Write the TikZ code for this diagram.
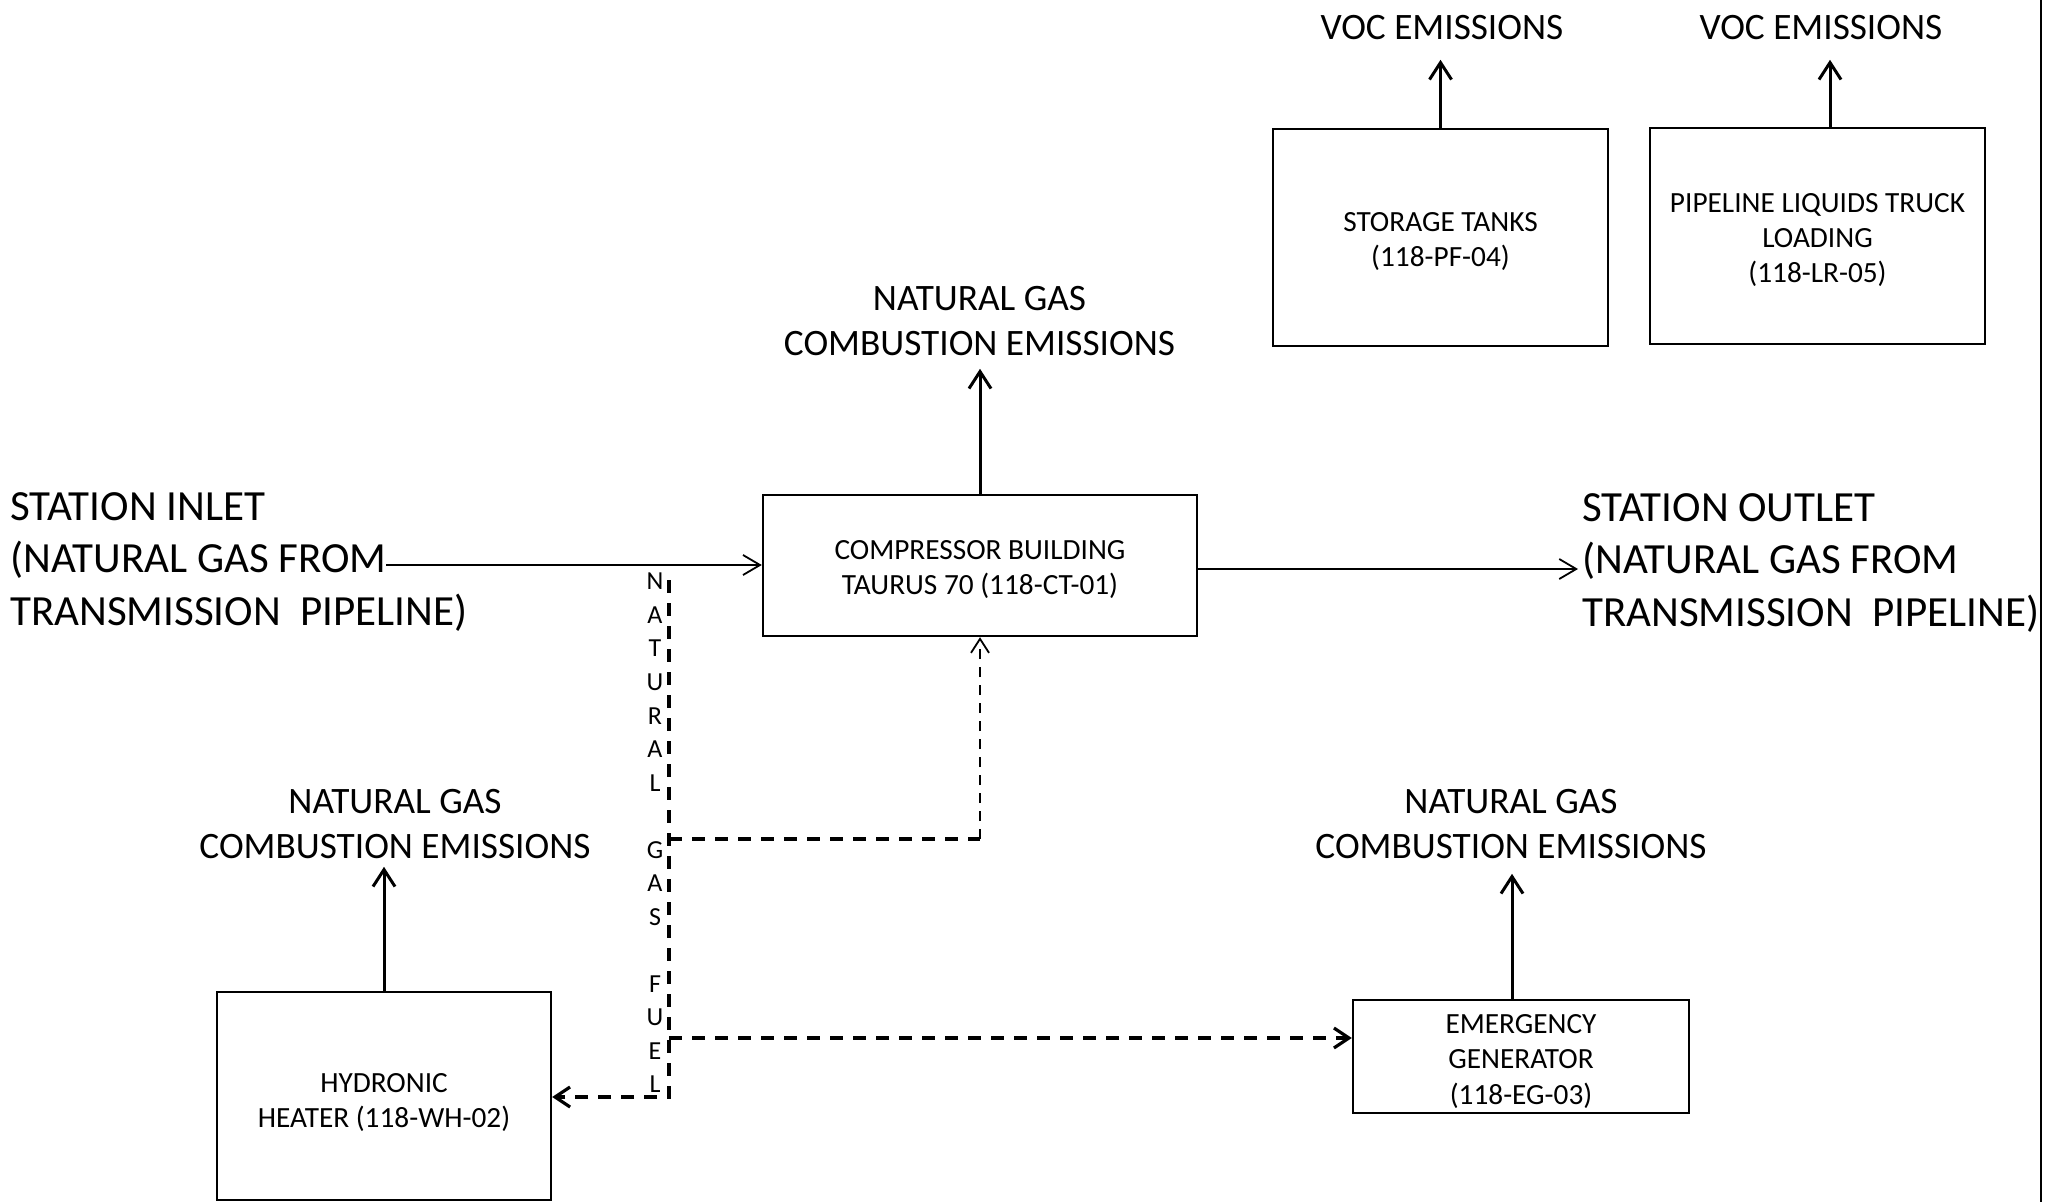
\documentclass[tikz,border=0pt]{standalone}
\usepackage{fontspec}
\setmainfont{Carlito}
\usetikzlibrary{arrows.meta}
\begin{document}
\begin{tikzpicture}[x=1pt,y=-1pt,
  frame/.style={draw,line width=2.4pt,inner sep=0pt},
  boxtxt/.style={inner sep=0pt,align=center,font=\fontsize{29.3}{35.2}\selectfont},
  lbl/.style={inner sep=0pt,align=center,font=\fontsize{37.3}{44.5}\selectfont},
  stn/.style={inner sep=0pt,align=left,font=\fontsize{43}{52.3}\selectfont},
  emis/.style={line width=3pt,-{Straight Barb[length=17pt,width=22pt]}},
  flow/.style={line width=1.8pt,-{Straight Barb[length=17pt,width=20pt]}},
  fuel/.style={line width=3.2pt,dash pattern=on 13pt off 10pt,-{Straight Barb[length=15pt,width=20pt]}},
  fuelline/.style={line width=3.2pt,dash pattern=on 13pt off 10pt},
  fuelthin/.style={line width=1.8pt,dash pattern=on 10pt off 8pt,-{Straight Barb[length=14pt,width=18pt]}}
]
\useasboundingbox (0,0) rectangle (2045,1202);
\fill[white] (0,0) rectangle (2045,1202);

% boxes
\node[frame,minimum width=434pt,minimum height=141pt] (cb) at (980,565.5) {};
\node[boxtxt] (cbt) at ([yshift=-4pt]cb.center) {COMPRESSOR BUILDING\\TAURUS 70 (118-CT-01)};
\node[frame,minimum width=335pt,minimum height=217pt] (st) at (1440.5,237.5) {};
\node[boxtxt] (stt) at ([yshift=-4pt]st.center) {STORAGE TANKS\\(118-PF-04)};
\node[frame,minimum width=335pt,minimum height=216pt] (pl) at (1817.5,236) {};
\node[boxtxt] (plt) at ([yshift=-4pt]pl.center) {PIPELINE LIQUIDS TRUCK\\LOADING\\(118-LR-05)};
\node[frame,minimum width=334pt,minimum height=208pt] (hh) at (384,1096) {};
\node[boxtxt] (hht) at ([yshift=-6.5pt]hh.center) {HYDRONIC\\HEATER (118-WH-02)};
\node[frame,minimum width=336pt,minimum height=113pt] (eg) at (1521,1056.5) {};
\node[boxtxt] (egt) at ([yshift=-5pt]eg.center) {EMERGENCY\\GENERATOR\\(118-EG-03)};

% labels
\node[lbl] (cbem) at (979.5,321) {NATURAL GAS\\COMBUSTION EMISSIONS};
\node[lbl] (stem) at (1442,27.3) {VOC EMISSIONS};
\node[lbl] (plem) at (1821,27.3) {VOC EMISSIONS};
\node[lbl] (hhem) at (395,824) {NATURAL GAS\\COMBUSTION EMISSIONS};
\node[lbl] (egem) at (1511,824) {NATURAL GAS\\COMBUSTION EMISSIONS};

\node[stn,anchor=west] (inlet) at (10,562) {STATION INLET\\(NATURAL GAS FROM\\TRANSMISSION\ \ PIPELINE)};
\node[stn,anchor=west] (outlet) at (1582,563) {STATION OUTLET\\(NATURAL GAS FROM\\TRANSMISSION\ \ PIPELINE)};

\node[inner sep=0pt,align=center,font=\fontsize{26}{33.53}\selectfont] (fuellbl) at (655,833)
  {N\\A\\T\\U\\R\\A\\L\\~\\G\\A\\S\\~\\F\\U\\E\\L};

% coordinates
\coordinate (inl) at (386,565);
\coordinate (outtip) at (1578,569);
\coordinate (plx) at (1830,0);
\coordinate (egx) at (1512,0);
\coordinate (j0) at (669,580);
\coordinate (jc) at (669,839);
\coordinate (je) at (669,1038);
\coordinate (jh) at (669,1097);
\coordinate (cbin) at (980,839);
\coordinate (rt) at (2041,0);
\coordinate (rb) at (2041,1202);

% main flow
\draw[flow] (inl) -- (inl -| cb.west);
\draw[flow] (cb.east |- outtip) -- (outtip);

% emissions
\draw[emis] (cb.north) -- ++(0,-125);
\draw[emis] (st.north) -- ++(0,-68);
\draw[emis] (pl.north -| plx) -- ++(0,-67);
\draw[emis] (hh.north) -- ++(0,-124);
\draw[emis] (eg.north -| egx) -- ++(0,-125);

% fuel
\draw[fuel] (j0) -- (jh) -- (jh -| hh.east);
\draw[fuelline] (jc) -- (cbin);
\draw[fuelthin] (cbin) -- (cb.south);
\draw[fuel] (je) -- (je -| eg.west);

% border
\draw[line width=2pt] (rt) -- (rb);
\end{tikzpicture}
\end{document}
